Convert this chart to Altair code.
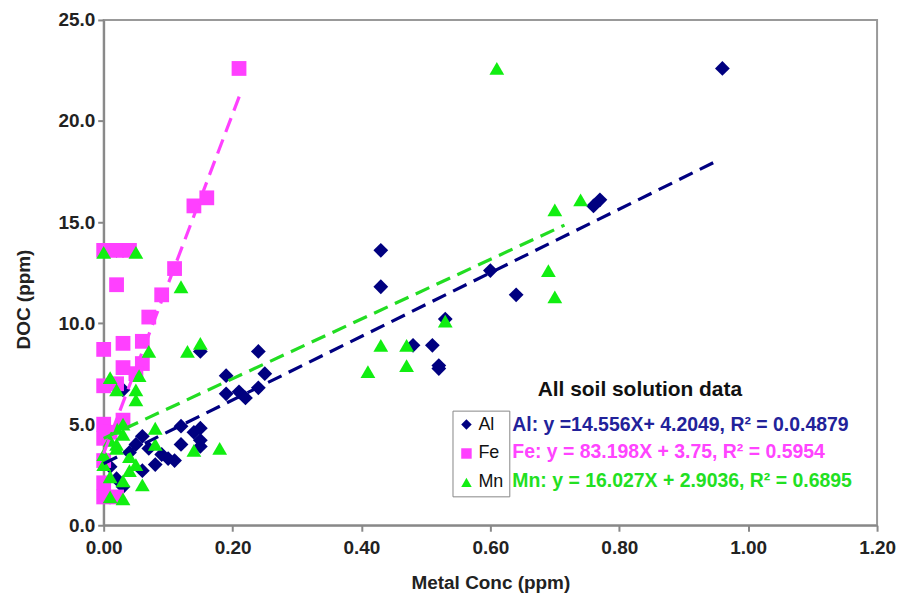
import altair as alt
import pandas as pd

series = ["Al", "Fe", "Mn"]
marker_colors = ["#000080", "#ff40ff", "#11ee11"]
line_colors = ["#000080", "#ff40ff", "#22dd22"]
eq_colors = ["#22229a", "#ff44ff", "#22e022"]
shapes = ["diamond", "square", "triangle-up"]

al_x = [0.96, 0.77, 0.76, 0.60, 0.64, 0.43, 0.43, 0.53, 0.48, 0.51, 0.52, 0.52,
        0.24, 0.25, 0.19, 0.19, 0.21, 0.22, 0.24, 0.15, 0.15, 0.15,
        0.06, 0.12, 0.14, 0.12, 0.15, 0.10, 0.11, 0.09, 0.06, 0.08, 0.04, 0.01,
        0.02, 0.03, 0.02, 0.03, 0.05, 0.07]
al_y = [22.6, 16.1, 15.8, 12.6, 11.4, 13.6, 11.8, 10.2, 8.9, 8.9, 7.9, 7.75,
        8.6, 7.5, 7.4, 6.5, 6.6, 6.3, 6.8, 8.6, 4.8, 4.2,
        4.4, 4.9, 4.6, 4.0, 3.9, 3.3, 3.2, 3.5, 2.7, 3.0, 3.6, 2.9,
        2.3, 1.9, 13.6, 6.7, 4.0, 3.8]

fe_x = [0.21, 0.14, 0.16, 0.00, 0.02, 0.04, 0.02, 0.11, 0.09, 0.07, 0.00, 0.03,
        0.06, 0.03, 0.06, 0.00, 0.02, 0.05, 0.00, 0.03, 0.00, 0.00, 0.00, 0.00,
        0.02, 0.01]
fe_y = [22.6, 15.8, 16.2, 13.6, 13.6, 13.6, 11.9, 12.7, 11.4, 10.3, 8.7, 9.0,
        9.1, 7.8, 8.0, 6.9, 7.0, 7.5, 5.0, 5.2, 4.3, 3.2, 2.1, 1.4,
        1.4, 4.6]

mn_x = [0.61, 0.74, 0.70, 0.69, 0.70, 0.53, 0.43, 0.47, 0.41, 0.47,
        0.12, 0.15, 0.13, 0.07, 0.00, 0.05, 0.01, 0.02, 0.05, 0.05, 0.055,
        0.08, 0.08, 0.14, 0.18, 0.02, 0.03, 0.02, 0.00, 0.04, 0.01, 0.03,
        0.04, 0.01, 0.03, 0.00, 0.02, 0.05, 0.06, 0.01, 0.03]
mn_y = [22.6, 16.1, 15.6, 12.6, 11.3, 10.1, 8.9, 8.9, 7.6, 7.9,
        11.8, 9.0, 8.6, 8.6, 13.5, 13.5, 7.3, 6.7, 6.7, 6.2, 7.4,
        4.8, 4.0, 3.7, 3.8, 4.8, 4.5, 4.0, 3.5, 3.4, 2.4, 2.2,
        2.7, 1.4, 1.3, 3.0, 3.8, 3.0, 2.0, 4.2, 5.0]

# trend lines as drawn in the picture (end points)
al_line_x = [0.0, 0.955]
al_line_y = [3.05, 18.08]
fe_line_x = [0.0, 0.212]
fe_line_y = [3.55, 21.35]
mn_line_x = [0.0, 0.715]
mn_line_y = [4.3, 14.85]

panel_title = "All soil solution data"
equations = [
    "Al: y =14.556X+ 4.2049, R\u00b2 = 0.0.4879",
    "Fe: y = 83.198X + 3.75, R\u00b2 = 0.5954",
    "Mn: y = 16.027X + 2.9036, R\u00b2 = 0.6895",
]

x_ticks = [0.0, 0.2, 0.4, 0.6, 0.8, 1.0, 1.2]
y_ticks = [0, 5, 10, 15, 20, 25]

FONT = "Liberation Sans"

pts = pd.DataFrame({
    "series": ["Al"] * len(al_x) + ["Fe"] * len(fe_x) + ["Mn"] * len(mn_x),
    "x": al_x + fe_x + mn_x,
    "y": al_y + fe_y + mn_y,
})
line_sets = [(al_line_x, al_line_y), (fe_line_x, fe_line_y), (mn_line_x, mn_line_y)]

x_enc = alt.X("x:Q", scale=alt.Scale(domain=[0, 1.2], nice=False),
              axis=alt.Axis(values=x_ticks, format=".2f", title="Metal Conc (ppm)",
                            labelPadding=7, labelFlush=False, titleY=57,
                            titleBaseline="middle"))
y_enc = alt.Y("y:Q", scale=alt.Scale(domain=[0, 25], nice=False),
              axis=alt.Axis(values=y_ticks, format=".1f", title="DOC (ppm)",
                            labelPadding=3, labelFlush=False, titleX=-80, titleY=280,
                            titleBaseline="middle", titleAlign="center"))

legend = alt.Legend(title=None, orient="none", legendX=350, legendY=392,
                    strokeColor="#888", fillColor="white", padding=5,
                    labelFont=FONT, labelFontSize=18, labelColor="#111",
                    symbolSize=110, rowPadding=11, symbolStrokeWidth=0,
                    labelOffset=3, cornerRadius=0)

points = alt.Chart(pts).mark_point(filled=True, opacity=1, size=220).encode(
    x=x_enc, y=y_enc,
    color=alt.Color("series:N", scale=alt.Scale(domain=series, range=marker_colors), legend=legend),
    shape=alt.Shape("series:N", scale=alt.Scale(domain=series, range=shapes), legend=legend),
)

trend_layers = []
for i, (lx, ly) in enumerate(line_sets):
    df = pd.DataFrame({"x": lx, "y": ly})
    trend_layers.append(alt.Chart(df).mark_line(
        strokeDash=[15, 8], strokeWidth=3.2, color=line_colors[i]).encode(x="x:Q", y="y:Q"))

one = pd.DataFrame({"a": [0]})
title_layer = alt.Chart(one).mark_text(
    text=panel_title, font=FONT, fontSize=21, fontWeight="bold", color="#111",
    align="center", baseline="middle").encode(x=alt.value(538), y=alt.value(371))

eq_layers = []
eq_y = [406, 434, 463]
for i, eq in enumerate(equations):
    eq_layers.append(alt.Chart(one).mark_text(
        text=eq, font=FONT, fontSize=19.5, fontWeight="bold", color=eq_colors[i],
        align="left", baseline="middle").encode(x=alt.value(410), y=alt.value(eq_y[i])))

chart = alt.layer(points, *trend_layers, title_layer, *eq_layers).properties(
    width=776, height=507,
    autosize=alt.AutoSizeParams(type="none"),
    padding={"left": 96, "top": 11, "right": 20, "bottom": 70},
).configure_view(
    stroke="#999", strokeWidth=2
).configure_axis(
    grid=False, domainColor="#888", domainWidth=2, tickColor="#888", tickWidth=2,
    tickSize=6, labelFont=FONT, labelFontSize=19, labelFontWeight="bold",
    labelColor="#222", titleFont=FONT, titleFontSize=19, titleFontWeight="bold",
    titleColor="#222"
)

chart.save("out.html", embed_options={"renderer": "svg", "actions": False})
